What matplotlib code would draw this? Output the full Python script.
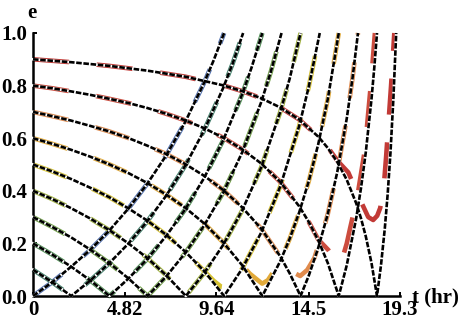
import matplotlib
matplotlib.use('Agg')
import matplotlib.pyplot as plt

# analytic curves (black dashed), one per initial eccentricity e0 = 0.0 ... 0.9
T0 = [0, 1, 2, 3, 4, 5, 6, 7, 8, 9, 9.5, 10.05]
E0 = [0, .052, .111, .175, .248, .331, .426, .534, .661, .811, .896, 1.0]
T1 = [0, 1, 2.01, 3, 4, 5, 6, 7, 8, 9, 10, 10.5, 11.05]
E1 = [.1, .053, 0, .058, .124, .198, .283, .381, .495, .630, .791, .884, 1.0]
T2 = [0, 1, 2, 3, 4.02, 5, 6, 7, 8, 9, 10, 11, 11.5, 12.06]
E2 = [.2, .158, .112, .060, 0, .065, .140, .228, .329, .449, .592, .767, .870, 1.0]
T3 = [0, 1, 2, 3, 4, 5, 6.03, 7, 8, 9, 10, 11, 12, 12.5, 13.07]
E3 = [.3, .263, .223, .177, .126, .068, 0, .074, .163, .268, .393, .546, .737, .851, 1.0]
T4 = [0, 1, 2, 3, 4, 5, 6, 7, 8.04, 9, 10, 11, 12, 13, 13.5, 14.07]
E4 = [.4, .369, .334, .295, .251, .201, .145, .079, 0, .087, .194, .325, .489, .699, .827, 1.0]
T5 = [0, 1, 2, 3, 4, 5, 6, 7, 8, 9, 10.05, 11, 12, 13, 14, 14.5, 15.08]
E5 = [.5, .474, .445, .412, .376, .334, .287, .233, .169, .095, 0, .104, .241, .416, .647, .795, 1.0]
T6 = [0, 1, 2, 3, 4, 5, 6, 7, 8, 9, 10, 11, 12.06, 13, 13.5, 14, 14.5, 15, 15.5, 16.08]
E6 = [.6, .579, .556, .530, .501, .468, .430, .386, .336, .276, .204, .117, 0, .132, .218, .318, .436, .577, .748, 1.0]
T7 = [0, 1, 2, 3, 4, 5, 6, 7, 8, 9, 10, 11, 12, 13, 13.5, 14.07, 14.5, 15, 15.5, 16, 16.5, 16.8, 17.09]
E7 = [.7, .684, .667, .647, .626, .601, .572, .540, .502, .457, .403, .337, .256, .151, .086, 0,
      .077, .183, .311, .471, .675, .827, 1.0]
T8 = [0, 1, 2, 3, 4, 5, 6, 7, 8, 9, 10, 11, 12, 13, 14, 14.5, 15, 15.5, 16.08,
      16.5, 17, 17.25, 17.5, 17.8, 17.95, 18.09]
E8 = [.8, .790, .778, .765, .750, .734, .715, .693, .668, .638, .602, .558, .504, .434, .341, .282, .212, .126, 0,
      .117, .297, .411, .546, .748, .870, 1.0]
T9 = [0, 2, 4, 6, 8, 10, 11, 12, 13, 14, 15, 15.5, 16, 16.5, 17, 17.25, 17.5, 17.8, 18.09,
      18.3, 18.5, 18.65, 18.8, 18.95, 19.1]
E9 = [.9, .889, .875, .857, .834, .801, .779, .752, .717, .671, .606, .563, .510, .442, .352, .295, .227, .126, 0,
      .117, .256, .386, .546, .748, 1.0]

# numerical curves that bounce off before reaching zero (e0 = 0.5 ... 0.9)
TN5 = [0, 1, 2, 3, 4, 5, 6, 7, 8, 9, 9.5, 9.9, 10.2, 10.5, 11, 12, 13, 14, 14.5, 15.08]
EN5 = [.5, .474, .445, .412, .376, .334, .287, .233, .169, .095, .058, .035, .032, .05, .104, .241, .416, .647, .795, 1.0]
TN6 = [0, 1, 2, 3, 4, 5, 6, 7, 8, 9, 10, 11, 11.4, 11.74, 12.05, 12.35, 12.63, 13, 13.5, 14, 14.5, 15, 15.5, 16.08]
EN6 = [.6, .579, .556, .530, .501, .468, .430, .386, .336, .276, .204, .117, .085, .065, .047, .06, .091,
       .132, .218, .318, .436, .577, .748, 1.0]
TN7 = [0, 1, 2, 3, 4, 5, 6, 7, 8, 9, 10, 11, 12, 13, 13.37, 13.68, 14.05, 14.42, 14.8, 15.3, 15.5, 16, 16.5, 16.8, 17.09]
EN7 = [.7, .684, .667, .647, .626, .601, .572, .540, .502, .457, .403, .337, .256, .151, .118, .09, .076, .099,
       .145, .26, .311, .471, .675, .827, 1.0]
TN8 = [0, 1, 2, 3, 4, 5, 6, 7, 8, 9, 10, 11, 12, 13, 14, 14.5, 15, 15.53, 15.89, 16.05, 16.26, 16.5, 16.68,
       17.05, 17.45, 17.76, 17.98]
EN8 = [.8, .790, .778, .765, .750, .734, .715, .693, .668, .638, .602, .558, .504, .434, .341, .282, .215, .175,
       .137, .125, .141, .2, .259, .376, .555, .80, 1.0]
TN9 = [0, 2, 4, 6, 8, 10, 11, 12, 13, 14, 15, 15.5, 16, 16.58, 17.21, 17.63, 17.89, 18.1, 18.26, 18.45, 18.57, 18.83, 19.0]
EN9 = [.9, .889, .875, .857, .834, .801, .779, .752, .717, .671, .606, .566, .515, .47, .365, .30, .289, .305,
       .335, .42, .53, .80, 1.0]

COLORS = ['#4f6fb0', '#3f7f6a', '#4f8f55', '#6f9f45', '#a0b23c',
          '#d6c232', '#e2aa3a', '#e08a4c', '#cc4c3e', '#c23a36']

X_TICKS = [0, 4.82, 9.64, 14.5, 19.3]
X_LABELS = ['0', '4.82', '9.64', '14.5', '19.3']
Y_TICKS = [0, 0.2, 0.4, 0.6, 0.8, 1.0]
Y_LABELS = ['0.0', '0.2', '0.4', '0.6', '0.8', '1.0']

plt.rcParams['lines.scale_dashes'] = False
plt.rcParams['font.family'] = ['Liberation Serif', 'DejaVu Serif']
plt.rcParams['font.weight'] = 'bold'

analytic = [(T0, E0), (T1, E1), (T2, E2), (T3, E3), (T4, E4),
            (T5, E5), (T6, E6), (T7, E7), (T8, E8), (T9, E9)]
numeric = [(T0, E0), (T1, E1), (T2, E2), (T3, E3), (T4, E4),
           (TN5, EN5), (TN6, EN6), (TN7, EN7), (TN8, EN8), (TN9, EN9)]

fig = plt.figure(figsize=(4.63, 3.27), dpi=100)
ax = fig.add_axes([33 / 463, 1 - 296 / 327, 367 / 463, 263 / 327])

# coloured numerical solutions underneath
for (t, e), c in zip(numeric, COLORS):
    ax.plot(t, e, color=c, lw=3.3, linestyle=(0, (26, 20)), zorder=2, clip_on=False)

# black dashed analytic curves with white gaps
for t, e in analytic:
    ax.plot(t, e, color='white', lw=1.9, zorder=3, clip_on=False)
    ax.plot(t, e, color='black', lw=1.9, linestyle=(0, (4.0, 1.2)), zorder=4, clip_on=False)

ax.set_xlim(0, 19.3)
ax.set_ylim(0, 1.0)
ax.set_xticks(X_TICKS)
ax.set_xticklabels(X_LABELS)
ax.set_yticks(Y_TICKS)
ax.set_yticklabels(Y_LABELS)
ax.tick_params(direction='in', length=3, width=1.4, labelsize=15)
ax.tick_params(axis='y', pad=4)
ax.tick_params(axis='x', pad=3)
for s in ['top', 'right']:
    ax.spines[s].set_visible(False)
for s in ['left', 'bottom']:
    ax.spines[s].set_linewidth(1.8)

fig.text(32 / 463, 1 - 18 / 327, 'e', ha='center', va='baseline', fontsize=15, fontweight='bold')
fig.text(412 / 463, 1 - 302 / 327, 't (hr)', ha='left', va='baseline', fontsize=15, fontweight='bold')

plt.savefig('out.png', dpi=100)
